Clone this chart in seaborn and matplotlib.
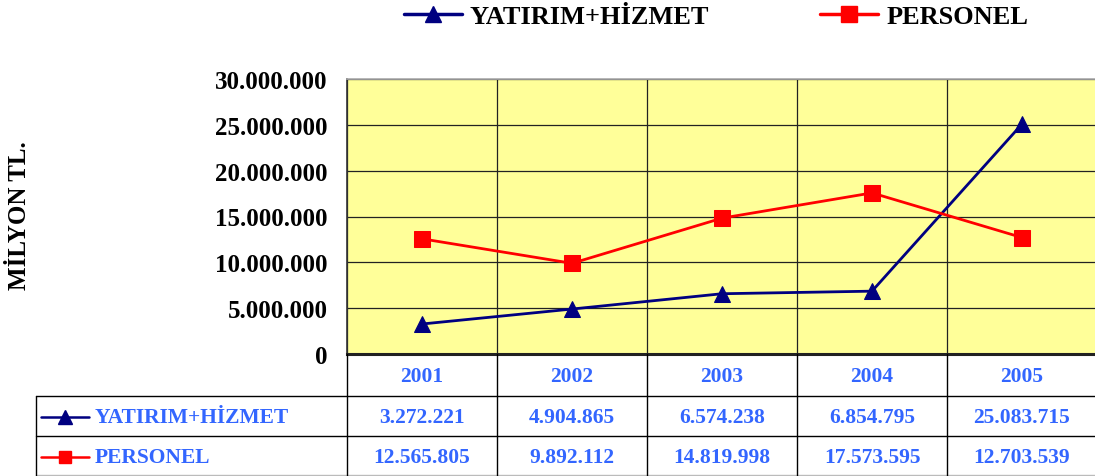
import matplotlib
matplotlib.use("Agg")
import matplotlib.pyplot as plt
import matplotlib.ticker as mticker
import matplotlib.transforms as mtrans
from matplotlib.lines import Line2D
import seaborn as sns
import pandas as pd

years = ["2001", "2002", "2003", "2004", "2005"]
yatirim = [3272221, 4904865, 6574238, 6854795, 25083715]
personel = [12565805, 9892112, 14819998, 17573595, 12703539]
series_names = ["YATIRIM+HİZMET", "PERSONEL"]

NAVY = "#000080"
RED = "#FF0000"
BLUE = "#3366FF"
YELLOW = "#FFFF99"

sns.set_style("white")
plt.rcParams["font.family"] = ["Liberation Serif", "DejaVu Serif"]
plt.rcParams["font.weight"] = "bold"
plt.rcParams["text.color"] = "black"
plt.rcParams["ytick.labelcolor"] = "black"

W, H = 1095, 477
fig = plt.figure(figsize=(W / 100, H / 100), dpi=100)
# plot area in pixels: x 347..1097, y 80..355
ax = fig.add_axes([347 / W, 1 - 355 / H, 750 / W, 275 / H])
ax.set_facecolor(YELLOW)

df = pd.DataFrame({"pos": list(range(len(years))) * 2,
                   "value": yatirim + personel,
                   "series": [series_names[0]] * len(years) + [series_names[1]] * len(years)})

sns.lineplot(data=df[df.series == series_names[0]], x="pos", y="value", ax=ax,
             color=NAVY, marker="^", markersize=12, markeredgecolor=NAVY,
             linewidth=2, label=series_names[0], legend=False, zorder=3)
sns.lineplot(data=df[df.series == series_names[1]], x="pos", y="value", ax=ax,
             color=RED, marker="s", markersize=11, markeredgecolor=RED,
             linewidth=2, label=series_names[1], legend=False, zorder=3)

ax.set_xlim(-0.5, len(years) - 0.5)
ax.set_ylim(0, 30000000)
ax.set_yticks(range(0, 30000001, 5000000))
ax.yaxis.set_major_formatter(mticker.FuncFormatter(lambda v, p: f"{v:,.0f}".replace(",", ".")))
ax.set_xticks([i - 0.5 for i in range(len(years) + 1)])
ax.set_xticklabels([])
ax.tick_params(axis="x", length=0)
ax.tick_params(axis="y", length=6, width=1, color="#333333", labelcolor="black",
               direction="out", pad=8, labelsize=18)
for lab in ax.get_yticklabels():
    lab.set_fontweight("bold")
ax.grid(True, color="#222222", linewidth=0.9)
ax.set_xlabel("")
ax.set_ylabel("")
for s in ["top", "right"]:
    ax.spines[s].set_color("#aaaaaa")
    ax.spines[s].set_linewidth(1.2)
ax.spines["left"].set_color("#333333")
ax.spines["left"].set_linewidth(1.2)
ax.spines["bottom"].set_color("#222222")
ax.spines["bottom"].set_linewidth(2.2)

fig.text(20 / W, 1 - 216 / H, "MİLYON TL.", rotation=90, ha="center", va="center",
         fontsize=18, fontweight="bold", color="black")

# legend at top
handles = [Line2D([], [], color=NAVY, marker="^", markersize=12, linewidth=2.5),
           Line2D([], [], color=RED, marker="s", markersize=11, linewidth=2.5)]
leg = fig.legend(handles, series_names, loc="center", bbox_to_anchor=(716 / W, 1 - 17 / H),
                 ncol=2, frameon=False, handlelength=2.2, handletextpad=0.3, columnspacing=4.2,
                 prop={"size": 19, "weight": "bold"})
for t in leg.get_texts():
    t.set_color("black")

# data table below the chart
fy = lambda py: 1 - py / H
fx = lambda px: px / W
tr = mtrans.blended_transform_factory(ax.transData, fig.transFigure)
lk = dict(color="black", linewidth=1.0, clip_on=False)
for yy in [397, 437]:
    fig.add_artist(Line2D([fx(36), 1], [fy(yy), fy(yy)], **lk))
fig.add_artist(Line2D([fx(36), 1], [fy(476), fy(476)], color="#bbbbbb", linewidth=1.0))
fig.add_artist(Line2D([fx(36), fx(36)], [fy(397), fy(477)], **lk))
for i in range(len(years) + 1):
    fig.add_artist(Line2D([i - 0.5, i - 0.5], [fy(355), fy(477)], transform=tr, **lk))

for i, yr in enumerate(years):
    fig.text(i, fy(377), yr, transform=tr, ha="center", va="center",
             color=BLUE, fontsize=15.5, fontweight="bold")
    fig.text(i, fy(418), f"{yatirim[i]:,}".replace(",", "."), transform=tr, ha="center",
             va="center", color=BLUE, fontsize=15.5, fontweight="bold")
    fig.text(i, fy(458), f"{personel[i]:,}".replace(",", "."), transform=tr, ha="center",
             va="center", color=BLUE, fontsize=15.5, fontweight="bold")

for yy, name, col, mk, ms in [(418, series_names[0], NAVY, "^", 10),
                              (458, series_names[1], RED, "s", 9)]:
    fig.add_artist(Line2D([fx(41), fx(89)], [fy(yy), fy(yy)], color=col, linewidth=1.8))
    fig.add_artist(Line2D([fx(65)], [fy(yy)], color=col, marker=mk, markersize=ms))
    fig.text(fx(95), fy(yy), name, ha="left", va="center", color=BLUE,
             fontsize=15.5, fontweight="bold")

fig.savefig("out.png", dpi=100, facecolor="white")
